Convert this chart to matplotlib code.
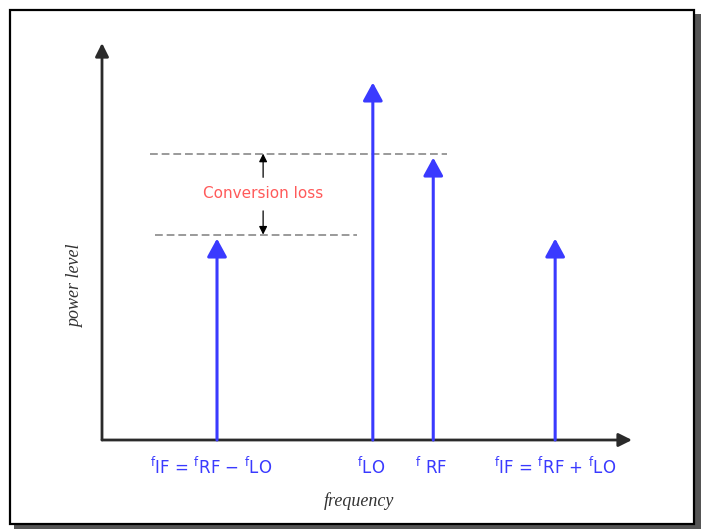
import matplotlib.pyplot as plt
from matplotlib.patches import Rectangle

# spectrum lines (arbitrary units)
freqs = [2.17, 5.11, 6.25, 8.55]
levels = [5.1, 9.05, 7.15, 5.1]
tick_labels = [
    r'${}^{\mathsf{f}}$IF = ${}^{\mathsf{f}}$RF $-$ ${}^{\mathsf{f}}$LO',
    r'${}^{\mathsf{f}}$LO',
    r'${}^{\mathsf{f}}$ RF',
    r'${}^{\mathsf{f}}$IF = ${}^{\mathsf{f}}$RF + ${}^{\mathsf{f}}$LO',
]
label_x = [2.05, 5.08, 6.2, 8.55]

# reference levels for the conversion loss marker
ref_levels = [7.25, 5.2]
ref_spans = [(0.91, 6.51), (1.0, 4.81)]
loss_x = 3.04

W, H = 701, 529
fig = plt.figure(figsize=(W / 100, H / 100), dpi=100)
plt.rcParams['mathtext.fontset'] = 'dejavusans'

# outer frame with drop shadow (behind the axes)
fig.patches.append(Rectangle((14 / W, 0), 687 / W, 5 / H, transform=fig.transFigure,
                             facecolor='#555555', edgecolor='none', zorder=-3))
fig.patches.append(Rectangle((694 / W, 0), 7 / W, 515 / H, transform=fig.transFigure,
                             facecolor='#555555', edgecolor='none', zorder=-3))
fig.patches.append(Rectangle((10 / W, 5 / H), 684 / W, 514 / H, transform=fig.transFigure,
                             facecolor='white', edgecolor='black', linewidth=1.6,
                             zorder=-2))

ax = fig.add_axes([102 / W, (H - 440) / H, 530 / W, 395 / H])
ax.set_xlim(0, 10)
ax.set_ylim(0, 10)
ax.axis('off')

blue = '#3a3aff'

# axes arrows
ax.annotate('', xy=(10, 0), xytext=(0, 0), annotation_clip=False,
            arrowprops=dict(arrowstyle='-|>', color='#2a2a2a', lw=2, mutation_scale=20,
                            shrinkA=0, shrinkB=0))
ax.annotate('', xy=(0, 10.05), xytext=(0, 0), annotation_clip=False,
            arrowprops=dict(arrowstyle='-|>', color='#2a2a2a', lw=2, mutation_scale=20,
                            shrinkA=0, shrinkB=0))

# dashed reference lines
for lvl, (x0, x1) in zip(ref_levels, ref_spans):
    ax.plot([x0, x1], [lvl, lvl], ls=(0, (4, 2)), color='#9a9a9a', lw=1.4, zorder=1)

# spectral lines
for f, p in zip(freqs, levels):
    ax.annotate('', xy=(f, p), xytext=(f, 0), annotation_clip=False,
                arrowprops=dict(arrowstyle='-|>,head_length=0.55,head_width=0.3',
                                color=blue, lw=2.2, mutation_scale=20,
                                shrinkA=0, shrinkB=0), zorder=3)

# conversion loss marker
ax.annotate('', xy=(loss_x, ref_levels[0]), xytext=(loss_x, 6.65),
            arrowprops=dict(arrowstyle='-|>', color='black', lw=0.9,
                            mutation_scale=12, shrinkA=0, shrinkB=0))
ax.annotate('', xy=(loss_x, ref_levels[1]), xytext=(loss_x, 5.8),
            arrowprops=dict(arrowstyle='-|>', color='black', lw=0.9,
                            mutation_scale=12, shrinkA=0, shrinkB=0))
ax.text(loss_x, 6.23, 'Conversion loss', color='#ff5a5a', fontsize=11,
        ha='center', va='center')

# frequency labels
for x, lab in zip(label_x, tick_labels):
    ax.text(x, -0.68, lab, color=blue, fontsize=12, ha='center', va='center',
            clip_on=False)

ax.text(4.85, -1.55, 'frequency', family='Liberation Serif', style='italic',
        fontsize=13, color='#333333', ha='center', va='center')
ax.text(-0.5, 3.9, 'power level', family='Liberation Serif', style='italic',
        fontsize=13, color='#333333', ha='center', va='center', rotation=90)

fig.savefig('out.png', dpi=100)
